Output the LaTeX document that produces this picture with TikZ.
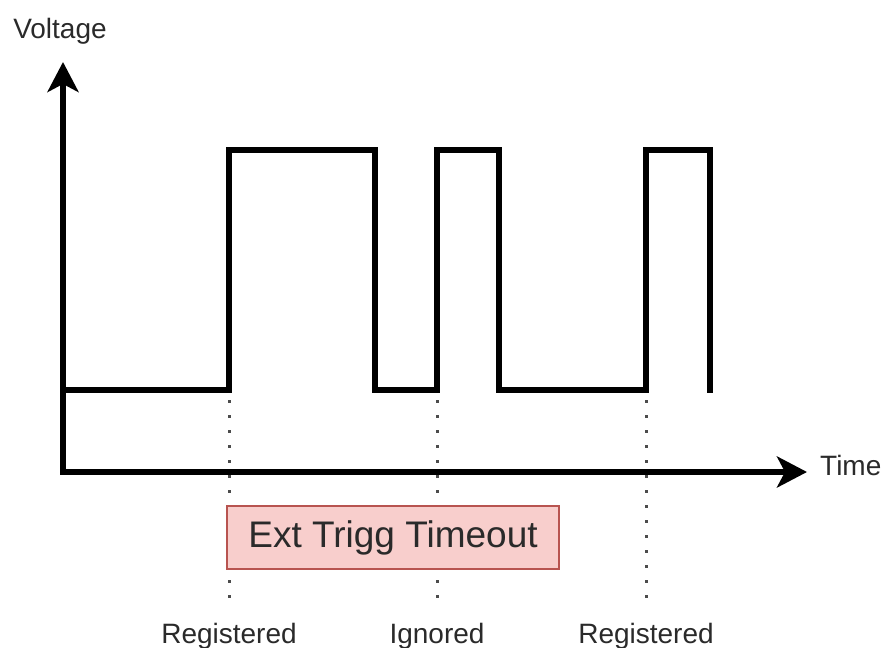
\documentclass[tikz,border=0pt]{standalone}
\usepackage{fontspec}
\setmainfont{Liberation Sans}
\usetikzlibrary{arrows.meta}
\definecolor{boxfill}{HTML}{F8CECC}
\definecolor{boxline}{HTML}{B85450}
\definecolor{txt}{HTML}{2A2A2A}
\begin{document}
\begin{tikzpicture}[x=1pt,y=-1pt,
  axis/.style={line width=6pt, line join=miter},
  signal/.style={line width=6pt, line join=miter},
  marker/.style={line width=3pt, color=black!70, dash pattern=on 2.5pt off 12.5pt},
  lbl/.style={font=\fontsize{28}{34}\selectfont, text=txt, inner sep=0pt, anchor=base},
  timeout/.style={draw=boxline, fill=boxfill, line width=1.5pt, minimum width=332pt, minimum height=63pt, inner sep=0pt, font=\fontsize{37}{44}\selectfont, text=txt}]
\useasboundingbox (0,0) rectangle (884,648);
% coordinates
\coordinate (ytip) at (63,62);
\coordinate (orig) at (63,472);
\coordinate (xtip) at (807,472);
\coordinate (s0) at (63,390);
\coordinate (s1) at (229,390);
\coordinate (s2) at (229,150);
\coordinate (s3) at (375,150);
\coordinate (s4) at (375,390);
\coordinate (s5) at (437,390);
\coordinate (s6) at (437,150);
\coordinate (s7) at (499,150);
\coordinate (s8) at (499,390);
\coordinate (s9) at (646,390);
\coordinate (s10) at (646,150);
\coordinate (s11) at (710,150);
\coordinate (s12) at (710,393);
\coordinate (d1a) at (229,400);
\coordinate (d1b) at (229,600);
\coordinate (d2a) at (437,400);
\coordinate (d2b) at (437,600);
\coordinate (d3a) at (646,400);
\coordinate (d3b) at (646,600);
% dotted markers
\draw[marker] (d1a) -- (d1b);
\draw[marker] (d2a) -- (d2b);
\draw[marker] (d3a) -- (d3b);
% timeout box
\node[timeout] (tbox) at (393,537.5) {Ext Trigg Timeout};
% signal
\draw[signal] (s0) -- (s1) -- (s2) -- (s3) -- (s4) -- (s5) -- (s6) -- (s7) -- (s8) -- (s9) -- (s10) -- (s11) -- (s12);
% axes
\draw[axis, {Stealth[length=30pt,width=31pt,inset=8pt]}-{Stealth[length=30pt,width=31pt,inset=8pt]}] (ytip) -- (orig) -- (xtip);
% labels
\node[lbl] (volt) at (60,38) {Voltage};
\node[lbl, anchor=base west] (time) at (820,475) {Time};
\node[lbl] (reg1) at (229,643) {Registered};
\node[lbl] (ign) at (437,643) {Ignored};
\node[lbl] (reg2) at (646,643) {Registered};
\end{tikzpicture}
\end{document}
